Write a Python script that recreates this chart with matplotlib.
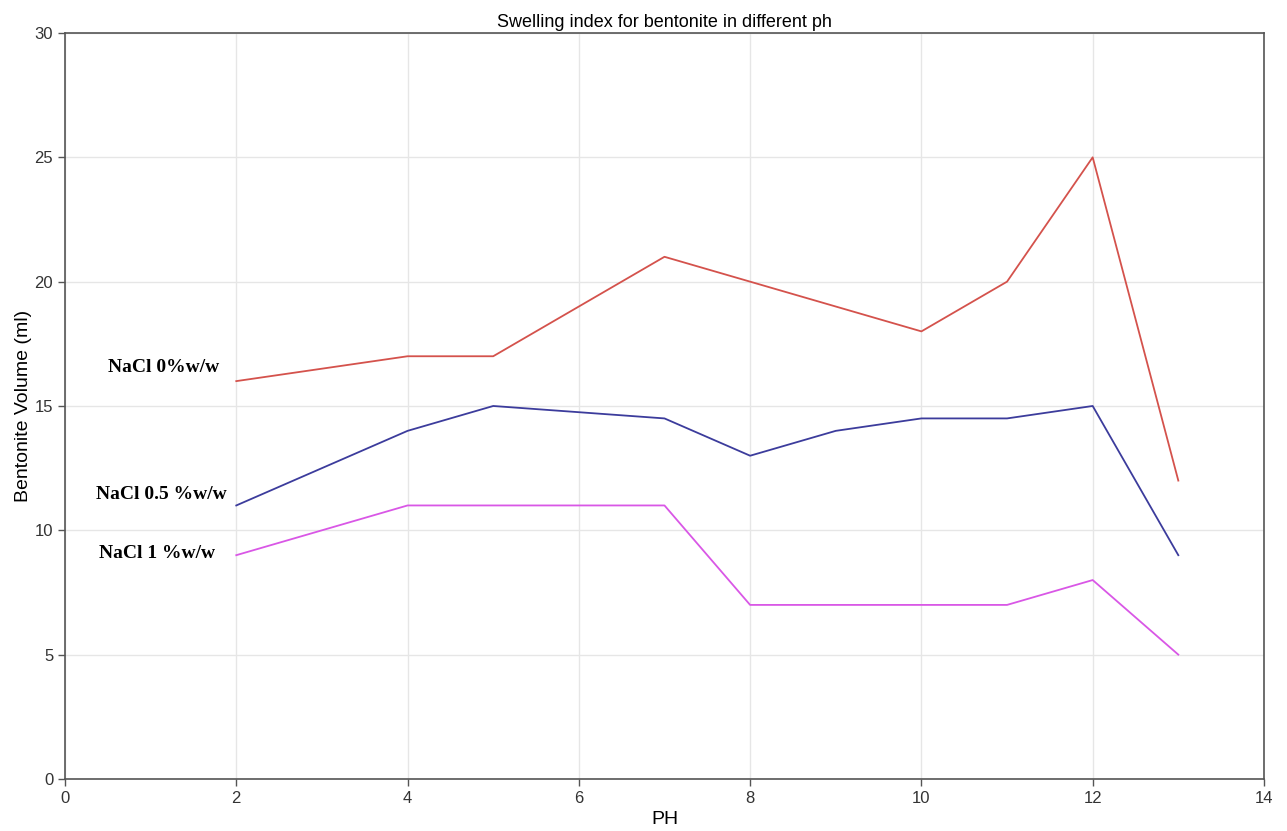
import matplotlib
matplotlib.use("Agg")
import matplotlib.pyplot as plt

ph = [2, 4, 5, 7, 8, 9, 10, 11, 12, 13]
nacl_0 = [16, 17, 17, 21, 20, 19, 18, 20, 25, 12]
nacl_05 = [11, 14, 15, 14.5, 13, 14, 14.5, 14.5, 15, 9]
nacl_1 = [9, 11, 11, 11, 7, 7, 7, 7, 8, 5]

series_labels = ["NaCl 0%w/w", "NaCl 0.5 %w/w", "NaCl 1 %w/w"]
series_colors = ["#d4524c", "#3c3c9c", "#d957e6"]

plt.rcParams["font.family"] = ["Liberation Sans", "DejaVu Sans"]

fig = plt.figure(figsize=(12.87, 8.31), dpi=100)
ax = fig.add_axes([0.0505, 0.0626, 0.9316, 0.8977])

for y, c in zip([nacl_0, nacl_05, nacl_1], series_colors):
    ax.plot(ph, y, color=c, lw=1.3)

ax.set_xlim(0, 14)
ax.set_ylim(0, 30)
ax.set_xticks(range(0, 15, 2))
ax.set_yticks(range(0, 31, 5))
ax.grid(True, color="#e6e6e6", lw=1)
ax.set_axisbelow(True)
for s in ax.spines.values():
    s.set_color("#555555")
    s.set_linewidth(1.2)
ax.tick_params(direction="out", length=5, width=1, colors="#555555",
               labelcolor="#333333", labelsize=12)

ax.set_title("Swelling index for bentonite in different ph", fontsize=13, pad=4)
ax.set_xlabel("PH", fontsize=14, labelpad=4)
ax.set_ylabel("Bentonite Volume (ml)", fontsize=14, labelpad=2)

# series names placed beside the left end of each line
label_pos = [(164, 367), (161, 494), (157, 554)]
for txt, (px, py) in zip(series_labels, label_pos):
    fig.text(px / 1287, 1 - py / 831, txt, ha="center", va="center",
             fontsize=14, fontweight="bold", family="Liberation Serif")

fig.savefig("out.png", dpi=100)
